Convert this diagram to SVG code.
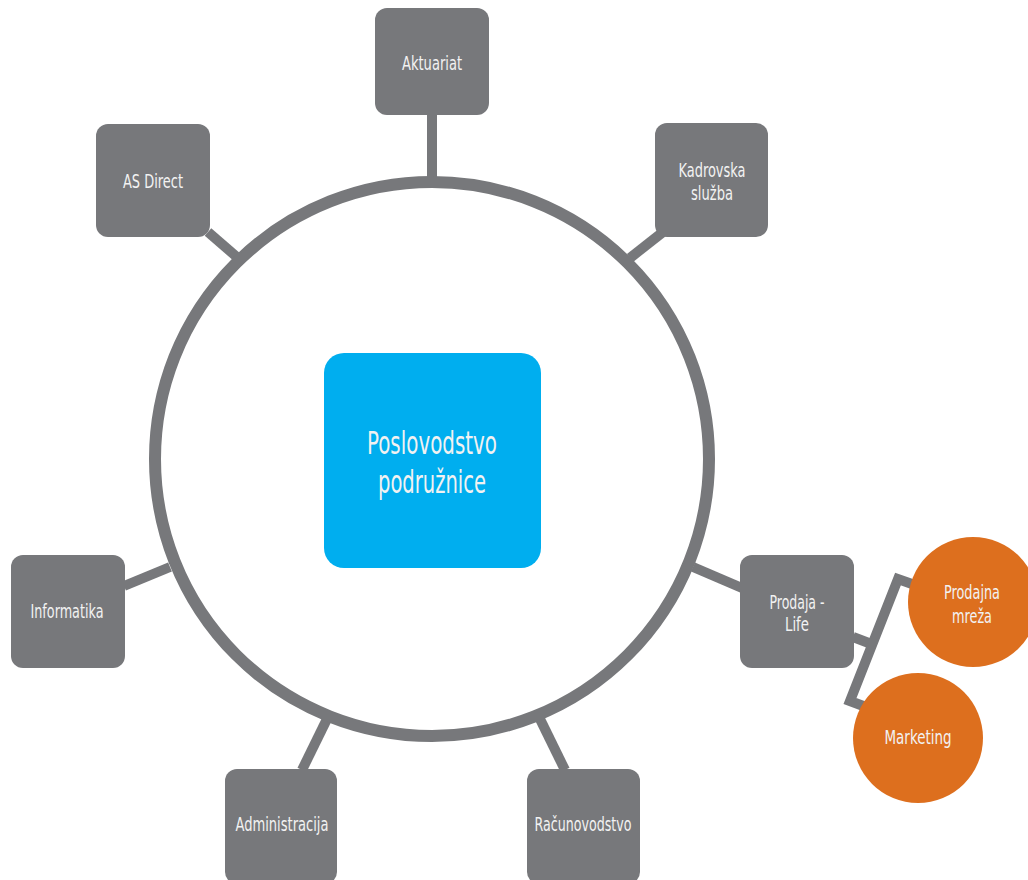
<svg xmlns="http://www.w3.org/2000/svg" width="1028" height="880" viewBox="0 0 1028 880">
<style>
.box{fill:#77787b}
.lbl{fill:#f2f2f2;font-family:"Liberation Sans Narrow","DejaVu Sans Condensed","Liberation Sans",sans-serif;font-size:19px;text-anchor:middle}
.big{font-size:32px}
.ln{stroke:#77787b;stroke-width:10;fill:none}
.org{fill:#dd6f1e}
</style>
<rect width="1028" height="880" fill="#ffffff"/>
<g id="connectors">
<line class="ln" x1="432" y1="114" x2="432" y2="180"/>
<line class="ln" x1="208" y1="232" x2="238" y2="258"/>
<line class="ln" x1="663" y1="232" x2="630" y2="258"/>
<line class="ln" x1="124" y1="586" x2="170" y2="567"/>
<line class="ln" x1="693" y1="567" x2="742" y2="588"/>
<line class="ln" x1="302" y1="770" x2="327" y2="719"/>
<line class="ln" x1="565" y1="770" x2="540" y2="719"/>
<line class="ln" x1="853" y1="637" x2="874" y2="645"/>
<polyline class="ln" stroke-width="9" points="912,584 898,579 850,701 866,707"/>
</g>
<g id="ring">
<circle cx="432" cy="459" r="277" fill="none" stroke="#77787b" stroke-width="12"/>
</g>
<g id="center">
<rect x="324" y="353" width="217" height="215" rx="20" fill="#00aeef"/>
<text class="lbl big" x="432" y="454" textLength="130" lengthAdjust="spacingAndGlyphs">Poslovodstvo</text>
<text class="lbl big" x="432" y="493" textLength="108" lengthAdjust="spacingAndGlyphs">podružnice</text>
</g>
<g id="aktuariat">
<rect class="box" x="375" y="8" width="114" height="107" rx="12"/>
<text class="lbl" x="432" y="70" textLength="60" lengthAdjust="spacingAndGlyphs">Aktuariat</text>
</g>
<g id="as-direct">
<rect class="box" x="96" y="124" width="114" height="113" rx="12"/>
<text class="lbl" x="153" y="188" textLength="60" lengthAdjust="spacingAndGlyphs">AS Direct</text>
</g>
<g id="kadrovska">
<rect class="box" x="655" y="123" width="113" height="114" rx="12"/>
<text class="lbl" x="712" y="177" textLength="67" lengthAdjust="spacingAndGlyphs">Kadrovska</text>
<text class="lbl" x="712" y="200" textLength="42" lengthAdjust="spacingAndGlyphs">služba</text>
</g>
<g id="informatika">
<rect class="box" x="11" y="555" width="114" height="113" rx="12"/>
<text class="lbl" x="67" y="618" textLength="73" lengthAdjust="spacingAndGlyphs">Informatika</text>
</g>
<g id="administracija">
<rect class="box" x="225" y="769" width="112" height="115" rx="12"/>
<text class="lbl" x="282" y="831" textLength="93" lengthAdjust="spacingAndGlyphs">Administracija</text>
</g>
<g id="racunovodstvo">
<rect class="box" x="527" y="769" width="113" height="115" rx="12"/>
<text class="lbl" x="583" y="831" textLength="97" lengthAdjust="spacingAndGlyphs">Računovodstvo</text>
</g>
<g id="prodaja-life">
<rect class="box" x="740" y="555" width="114" height="113" rx="12"/>
<text class="lbl" x="797" y="609" textLength="55" lengthAdjust="spacingAndGlyphs">Prodaja -</text>
<text class="lbl" x="797" y="631" textLength="24" lengthAdjust="spacingAndGlyphs">Life</text>
</g>
<g id="prodajna-mreza">
<circle class="org" cx="973" cy="602" r="65"/>
<text class="lbl" x="972" y="599" textLength="56" lengthAdjust="spacingAndGlyphs">Prodajna</text>
<text class="lbl" x="972" y="623" textLength="40" lengthAdjust="spacingAndGlyphs">mreža</text>
</g>
<g id="marketing">
<circle class="org" cx="918" cy="738" r="65"/>
<text class="lbl" x="918" y="744" textLength="67" lengthAdjust="spacingAndGlyphs">Marketing</text>
</g>
</svg>
